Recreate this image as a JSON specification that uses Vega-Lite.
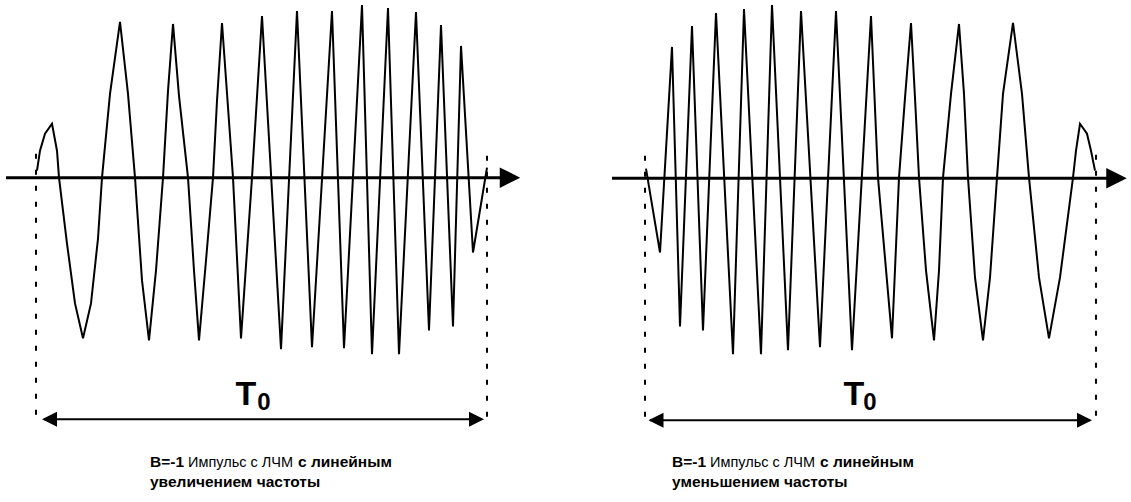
{
  "$schema": "https://vega.github.io/schema/vega-lite/v6.json",
  "width": 1131,
  "height": 502,
  "autosize": {"type": "fit", "contains": "padding"},
  "padding": 0,
  "background": "white",
  "config": {"view": {"stroke": null}},
  "datasets": {
    "wave": [
      {"panel": "up", "t": 37, "amp": 7}, {"panel": "up", "t": 40, "amp": 27}, {"panel": "up", "t": 45, "amp": 44},
      {"panel": "up", "t": 52, "amp": 54}, {"panel": "up", "t": 57, "amp": 27}, {"panel": "up", "t": 59, "amp": 0},
      {"panel": "up", "t": 67, "amp": -66}, {"panel": "up", "t": 75, "amp": -126}, {"panel": "up", "t": 83, "amp": -161},
      {"panel": "up", "t": 91, "amp": -126}, {"panel": "up", "t": 98, "amp": -61}, {"panel": "up", "t": 102, "amp": 0},
      {"panel": "up", "t": 110, "amp": 84}, {"panel": "up", "t": 120, "amp": 156}, {"panel": "up", "t": 128, "amp": 84},
      {"panel": "up", "t": 135, "amp": 0}, {"panel": "up", "t": 142, "amp": -103}, {"panel": "up", "t": 149, "amp": -163},
      {"panel": "up", "t": 156, "amp": -93}, {"panel": "up", "t": 163, "amp": 0}, {"panel": "up", "t": 168, "amp": 87},
      {"panel": "up", "t": 173, "amp": 154}, {"panel": "up", "t": 179, "amp": 82}, {"panel": "up", "t": 188, "amp": 0},
      {"panel": "up", "t": 194, "amp": -93}, {"panel": "up", "t": 199, "amp": -163}, {"panel": "up", "t": 206, "amp": -83},
      {"panel": "up", "t": 213, "amp": 0}, {"panel": "up", "t": 217, "amp": 77}, {"panel": "up", "t": 222, "amp": 155},
      {"panel": "up", "t": 233, "amp": 0}, {"panel": "up", "t": 241, "amp": -161}, {"panel": "up", "t": 252, "amp": 0},
      {"panel": "up", "t": 262, "amp": 162}, {"panel": "up", "t": 281, "amp": -172}, {"panel": "up", "t": 297, "amp": 167},
      {"panel": "up", "t": 312, "amp": -170}, {"panel": "up", "t": 332, "amp": 167}, {"panel": "up", "t": 344, "amp": -171},
      {"panel": "up", "t": 362, "amp": 173}, {"panel": "up", "t": 372, "amp": -177}, {"panel": "up", "t": 388, "amp": 170},
      {"panel": "up", "t": 399, "amp": -177}, {"panel": "up", "t": 416, "amp": 166}, {"panel": "up", "t": 429, "amp": -153},
      {"panel": "up", "t": 441, "amp": 153}, {"panel": "up", "t": 453, "amp": -149}, {"panel": "up", "t": 461, "amp": 132},
      {"panel": "up", "t": 473, "amp": -75}, {"panel": "up", "t": 487, "amp": 10},
      {"panel": "down", "t": 646, "amp": 9}, {"panel": "down", "t": 660, "amp": -75}, {"panel": "down", "t": 672, "amp": 131},
      {"panel": "down", "t": 680, "amp": -149}, {"panel": "down", "t": 692, "amp": 152}, {"panel": "down", "t": 703, "amp": -153},
      {"panel": "down", "t": 716, "amp": 165}, {"panel": "down", "t": 733, "amp": -177}, {"panel": "down", "t": 744, "amp": 169},
      {"panel": "down", "t": 761, "amp": -177}, {"panel": "down", "t": 772, "amp": 173}, {"panel": "down", "t": 788, "amp": -173},
      {"panel": "down", "t": 801, "amp": 167}, {"panel": "down", "t": 820, "amp": -170}, {"panel": "down", "t": 836, "amp": 167},
      {"panel": "down", "t": 852, "amp": -173}, {"panel": "down", "t": 871, "amp": 162}, {"panel": "down", "t": 878, "amp": 0},
      {"panel": "down", "t": 892, "amp": -161}, {"panel": "down", "t": 899, "amp": 0}, {"panel": "down", "t": 905, "amp": 80},
      {"panel": "down", "t": 911, "amp": 155}, {"panel": "down", "t": 915, "amp": 80}, {"panel": "down", "t": 919, "amp": 0},
      {"panel": "down", "t": 926, "amp": -93}, {"panel": "down", "t": 934, "amp": -163}, {"panel": "down", "t": 939, "amp": -93},
      {"panel": "down", "t": 943, "amp": 0}, {"panel": "down", "t": 951, "amp": 84}, {"panel": "down", "t": 959, "amp": 154},
      {"panel": "down", "t": 964, "amp": 84}, {"panel": "down", "t": 968, "amp": 0}, {"panel": "down", "t": 975, "amp": -100},
      {"panel": "down", "t": 983, "amp": -163}, {"panel": "down", "t": 990, "amp": -100}, {"panel": "down", "t": 997, "amp": 0},
      {"panel": "down", "t": 1003, "amp": 84}, {"panel": "down", "t": 1013, "amp": 155}, {"panel": "down", "t": 1022, "amp": 84},
      {"panel": "down", "t": 1029, "amp": 0}, {"panel": "down", "t": 1039, "amp": -100}, {"panel": "down", "t": 1049, "amp": -161},
      {"panel": "down", "t": 1060, "amp": -100}, {"panel": "down", "t": 1073, "amp": 0}, {"panel": "down", "t": 1076, "amp": 27},
      {"panel": "down", "t": 1080, "amp": 54}, {"panel": "down", "t": 1087, "amp": 44}, {"panel": "down", "t": 1091, "amp": 27},
      {"panel": "down", "t": 1095, "amp": 7}
    ],
    "axes": [
      {"panel": "up", "t": 6, "t2": 505, "amp": 0},
      {"panel": "down", "t": 612, "t2": 1110, "amp": -0.5}
    ],
    "bounds": [
      {"t": 36, "top": 24, "bottom": -241},
      {"t": 487, "top": 22, "bottom": -241},
      {"t": 645, "top": 22, "bottom": -243},
      {"t": 1096, "top": 23, "bottom": -242}
    ],
    "spans": [
      {"t": 44, "t2": 480, "amp": -242},
      {"t": 650, "t2": 1090, "amp": -243}
    ],
    "heads": [
      {"kind": "axis", "t": 510, "amp": 0},
      {"kind": "axis", "t": 1116.5, "amp": -0.5},
      {"kind": "spanR", "t": 476.5, "amp": -242},
      {"kind": "spanR", "t": 1084.5, "amp": -243},
      {"kind": "spanL", "t": 49.5, "amp": -242},
      {"kind": "spanL", "t": 656, "amp": -243}
    ],
    "labels": [
      {"part": "T", "t": 246, "amp": -228, "text": "T"},
      {"part": "T", "t": 854, "amp": -228, "text": "T"},
      {"part": "sub", "t": 264, "amp": -233, "text": "0"},
      {"part": "sub", "t": 870, "amp": -233, "text": "0"}
    ],
    "captions": [
      {"part": "bold", "t": 150, "amp": -290, "text": "B=-1"},
      {"part": "normal", "t": 188, "amp": -290, "text": "Импульс с ЛЧМ"},
      {"part": "bold", "t": 298, "amp": -290, "text": "с линейным"},
      {"part": "bold", "t": 150, "amp": -310, "text": "увеличением частоты"},
      {"part": "bold", "t": 672, "amp": -290, "text": "B=-1"},
      {"part": "normal", "t": 710, "amp": -290, "text": "Импульс с ЛЧМ"},
      {"part": "bold", "t": 820, "amp": -290, "text": "с линейным"},
      {"part": "bold", "t": 672, "amp": -310, "text": "уменьшением частоты"}
    ]
  },
  "encoding": {
    "x": {"field": "t", "type": "quantitative", "scale": {"domain": [0, 1131], "nice": false, "zero": false}, "axis": null},
    "y": {"field": "amp", "type": "quantitative", "scale": {"domain": [-325, 177], "nice": false, "zero": false}, "axis": null}
  },
  "layer": [
    {
      "data": {"name": "wave"},
      "mark": {"type": "line", "color": "black", "strokeWidth": 2},
      "encoding": {"detail": {"field": "panel"}}
    },
    {
      "data": {"name": "axes"},
      "mark": {"type": "rule", "color": "black", "strokeWidth": 3},
      "encoding": {"x2": {"field": "t2"}}
    },
    {
      "data": {"name": "bounds"},
      "mark": {"type": "rule", "color": "black", "strokeWidth": 2, "strokeDash": [5, 11]},
      "encoding": {
        "y": {"field": "top", "type": "quantitative"},
        "y2": {"field": "bottom"}
      }
    },
    {
      "data": {"name": "spans"},
      "mark": {"type": "rule", "color": "black", "strokeWidth": 2},
      "encoding": {"x2": {"field": "t2"}}
    },
    {
      "data": {"name": "heads"},
      "transform": [{"filter": "datum.kind === 'axis'"}],
      "mark": {"type": "point", "shape": "M -1 -1 L 1 0 L -1 1 Z", "size": 420, "filled": true, "color": "black", "opacity": 1, "strokeWidth": 0}
    },
    {
      "data": {"name": "heads"},
      "transform": [{"filter": "datum.kind === 'spanR'"}],
      "mark": {"type": "point", "shape": "M -1 -1 L 1 0 L -1 1 Z", "size": 225, "filled": true, "color": "black", "opacity": 1, "strokeWidth": 0}
    },
    {
      "data": {"name": "heads"},
      "transform": [{"filter": "datum.kind === 'spanL'"}],
      "mark": {"type": "point", "shape": "M 1 -1 L -1 0 L 1 1 Z", "size": 225, "filled": true, "color": "black", "opacity": 1, "strokeWidth": 0}
    },
    {
      "data": {"name": "labels"},
      "transform": [{"filter": "datum.part === 'T'"}],
      "mark": {"type": "text", "font": "Liberation Sans", "fontWeight": "bold", "fontSize": 34, "align": "center", "baseline": "alphabetic", "color": "black"},
      "encoding": {"text": {"field": "text"}}
    },
    {
      "data": {"name": "labels"},
      "transform": [{"filter": "datum.part === 'sub'"}],
      "mark": {"type": "text", "font": "Liberation Sans", "fontWeight": "bold", "fontSize": 24, "align": "center", "baseline": "alphabetic", "color": "black"},
      "encoding": {"text": {"field": "text"}}
    },
    {
      "data": {"name": "captions"},
      "transform": [{"filter": "datum.part === 'bold'"}],
      "mark": {"type": "text", "font": "Liberation Sans", "fontWeight": "bold", "fontSize": 15.5, "align": "left", "baseline": "alphabetic", "color": "black"},
      "encoding": {"text": {"field": "text"}}
    },
    {
      "data": {"name": "captions"},
      "transform": [{"filter": "datum.part === 'normal'"}],
      "mark": {"type": "text", "font": "Liberation Sans", "fontWeight": "normal", "fontSize": 14.5, "align": "left", "baseline": "alphabetic", "color": "black"},
      "encoding": {"text": {"field": "text"}}
    }
  ]
}
